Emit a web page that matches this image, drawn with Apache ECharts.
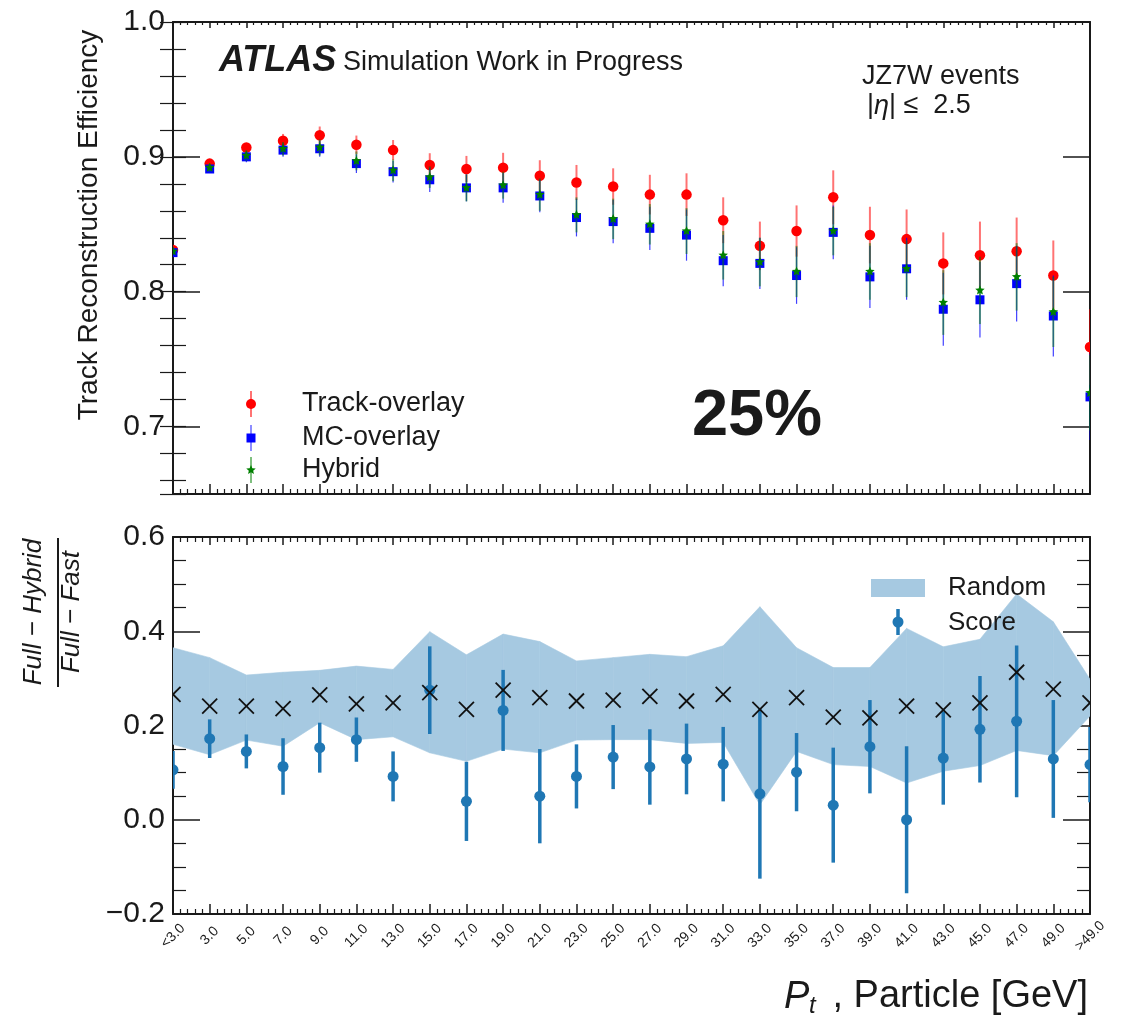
<!DOCTYPE html>
<html>
<head>
<meta charset="utf-8">
<script src="https://cdn.jsdelivr.net/npm/echarts@6/dist/echarts.min.js"></script>
<style>
  html, body { margin: 0; padding: 0; background: #fff; }
  #chart { width: 1121px; height: 1016px; }
</style>
</head>
<body>
<div id="chart"></div>
<script>
const FONT = '"Liberation Sans", Helvetica, Arial, sans-serif';
const FRAME = '#1a1a1a';
const TEXT = '#1a1a1a';

// pT bins (GeV)
const ptLabels = ['<3.0', '3.0', '5.0', '7.0', '9.0', '11.0', '13.0', '15.0', '17.0', '19.0', '21.0', '23.0', '25.0',
  '27.0', '29.0', '31.0', '33.0', '35.0', '37.0', '39.0', '41.0', '43.0', '45.0', '47.0', '49.0', '>49.0'];

// Track reconstruction efficiency per bin
const trackEff = [0.831, 0.895, 0.907, 0.912, 0.916, 0.909, 0.905, 0.894, 0.891, 0.892, 0.886, 0.881, 0.878,
  0.872, 0.872, 0.853, 0.834, 0.845, 0.870, 0.842, 0.839, 0.821, 0.827, 0.830, 0.812, 0.759];
const trackErr = [0.003, 0.003, 0.003, 0.005, 0.0065, 0.0068, 0.0075, 0.0087, 0.0097, 0.011, 0.0115, 0.013, 0.0135,
  0.0147, 0.0158, 0.017, 0.018, 0.019, 0.020, 0.021, 0.022, 0.023, 0.025, 0.025, 0.026, 0.028];

const mcEff = [0.829, 0.891, 0.900, 0.905, 0.906, 0.895, 0.889, 0.883, 0.877, 0.877, 0.871, 0.855, 0.852,
  0.847, 0.842, 0.823, 0.821, 0.812, 0.844, 0.811, 0.817, 0.787, 0.794, 0.806, 0.782, 0.722];
const mcErr = [0.003, 0.003, 0.004, 0.005, 0.006, 0.007, 0.008, 0.009, 0.010, 0.011, 0.012, 0.014, 0.016,
  0.016, 0.019, 0.019, 0.019, 0.021, 0.020, 0.023, 0.023, 0.027, 0.028, 0.028, 0.030, 0.032];

const hybridEff = [0.830, 0.892, 0.901, 0.906, 0.907, 0.897, 0.890, 0.885, 0.877, 0.879, 0.872, 0.857, 0.854,
  0.850, 0.845, 0.827, 0.822, 0.815, 0.845, 0.815, 0.817, 0.792, 0.801, 0.811, 0.785, 0.725];
const hybridErr = [0.003, 0.003, 0.004, 0.005, 0.006, 0.007, 0.008, 0.008, 0.010, 0.010, 0.012, 0.013, 0.015,
  0.015, 0.017, 0.018, 0.018, 0.019, 0.018, 0.021, 0.021, 0.024, 0.025, 0.025, 0.026, 0.028];

// (Full - Hybrid) / (Full - Fast): random selection band and mean, score selection
const randomUpper = [0.365, 0.344, 0.307, 0.313, 0.317, 0.326, 0.319, 0.399, 0.350, 0.394, 0.378, 0.337, 0.344,
  0.351, 0.346, 0.369, 0.452, 0.365, 0.323, 0.323, 0.406, 0.367, 0.383, 0.479, 0.420, 0.298];
const randomLower = [0.160, 0.138, 0.169, 0.156, 0.206, 0.170, 0.176, 0.142, 0.124, 0.150, 0.142, 0.169, 0.170,
  0.170, 0.162, 0.164, 0.032, 0.145, 0.117, 0.113, 0.078, 0.103, 0.115, 0.147, 0.136, 0.220];
const randomMean = [0.266, 0.241, 0.241, 0.236, 0.265, 0.246, 0.248, 0.270, 0.234, 0.275, 0.259, 0.252, 0.254,
  0.262, 0.252, 0.266, 0.234, 0.259, 0.218, 0.216, 0.241, 0.233, 0.248, 0.313, 0.277, 0.248];
const scoreVal = [0.106, 0.172, 0.145, 0.113, 0.153, 0.170, 0.092, 0.275, 0.039, 0.232, 0.050, 0.092, 0.133,
  0.112, 0.129, 0.118, 0.055, 0.101, 0.031, 0.155, 0.000, 0.131, 0.192, 0.209, 0.129, 0.117];
const scoreErr = [0.040, 0.041, 0.036, 0.060, 0.053, 0.047, 0.053, 0.093, 0.084, 0.086, 0.100, 0.068, 0.068,
  0.080, 0.075, 0.079, 0.180, 0.083, 0.122, 0.099, 0.156, 0.099, 0.113, 0.161, 0.125, 0.080];

const RED = '#ff0000', BLUE = '#0000ff', GREEN = '#008000';
const SCORE = '#1f77b4', BAND = '#a6c9e1';

function xAxis(gridIndex, position, majorLen, minorLen, labels) {
  return {
    type: 'value', gridIndex, position, min: 0, max: ptLabels.length - 1, interval: 1,
    axisLine: { show: true, onZero: false, lineStyle: { color: FRAME, width: 2 } },
    axisTick: { show: true, inside: true, length: majorLen, lineStyle: { color: FRAME, width: 1.5 } },
    minorTick: { show: true, splitNumber: 5, length: minorLen, lineStyle: { color: FRAME, width: 1.2 } },
    splitLine: { show: false }, minorSplitLine: { show: false },
    axisLabel: labels ? {
      show: true, rotate: 45, align: 'center', verticalAlign: 'middle', margin: 22,
      fontSize: 14, fontFamily: FONT, color: TEXT,
      formatter: v => ptLabels[Math.round(v)] || ''
    } : { show: false }
  };
}

function yAxisCfg(gridIndex, position, opts) {
  return Object.assign({
    type: 'value', gridIndex, position,
    axisLine: { show: true, onZero: false, lineStyle: { color: FRAME, width: 2 } },
    axisTick: { show: true, inside: true, length: 27, lineStyle: { color: FRAME, width: 1.5 } },
    splitLine: { show: false }, minorSplitLine: { show: false },
    axisLabel: { show: false }
  }, opts);
}

const effLabel = {
  show: true, margin: 8, fontSize: 30, fontFamily: FONT, color: TEXT,
  formatter: v => (Math.abs(v * 10 - Math.round(v * 10)) < 1e-6 ? v.toFixed(1) : '')
};
const ratioLabel = {
  show: true, margin: 8, fontSize: 30, fontFamily: FONT, color: TEXT,
  formatter: v => v.toFixed(1).replace('-', '\u2212')
};

// Top panel: major ticks every 0.1, minor ticks every 0.02 via a companion axis
const effMajor = { min: 0.65, max: 1.0, splitNumber: 4, minInterval: 0.1, maxInterval: 0.1 };
const effMinor = { min: 0.65, max: 1.0, splitNumber: 17, minInterval: 0.02, maxInterval: 0.02,
  axisLine: { show: false }, axisTick: { show: true, inside: true, length: 13, lineStyle: { color: FRAME, width: 1.2 } } };
const ratioRange = { min: -0.2, max: 0.6, interval: 0.2,
  minorTick: { show: true, splitNumber: 4, length: 13, lineStyle: { color: FRAME, width: 1.2 } } };

// marker shapes drawn at pixel position (x, y)
const shapes = {
  circle: (x, y, s, c) => ({ type: 'circle', shape: { cx: x, cy: y, r: s / 2 }, style: { fill: c } }),
  square: (x, y, s, c) => ({ type: 'rect', shape: { x: x - s / 2, y: y - s / 2, width: s, height: s }, style: { fill: c } }),
  star: (x, y, s, c) => ({ type: 'polygon', shape: { points: starPoints(x, y, s / 2, s / 4.4) }, style: { fill: c } }),
  cross: (x, y, s, c) => ({
    type: 'group', children: [
      { type: 'line', shape: { x1: x - s / 2, y1: y - s / 2, x2: x + s / 2, y2: y + s / 2 }, style: { stroke: c, lineWidth: 1.8 } },
      { type: 'line', shape: { x1: x - s / 2, y1: y + s / 2, x2: x + s / 2, y2: y - s / 2 }, style: { stroke: c, lineWidth: 1.8 } }
    ]
  })
};

function starPoints(cx, cy, R, r) {
  const pts = [];
  for (let k = 0; k < 10; k++) {
    const ang = -Math.PI / 2 + k * Math.PI / 5;
    const rad = k % 2 === 0 ? R : r;
    pts.push([cx + rad * Math.cos(ang), cy + rad * Math.sin(ang)]);
  }
  return pts;
}

// points with vertical error bars, clipped to the frame
function pointSeries(name, vals, errs, o) {
  return {
    type: 'custom', name, xAxisIndex: o.xi, yAxisIndex: o.yi, clip: true, silent: true, z: o.z || 3,
    data: vals.map((v, i) => [i, v, errs ? errs[i] : 0]),
    encode: { x: 0, y: 1 },
    renderItem: (params, api) => {
      const i = api.value(0), v = api.value(1), e = api.value(2);
      const c = api.coord([i, v]);
      const children = [];
      if (e > 0) {
        const a = api.coord([i, v + e]), b = api.coord([i, v - e]);
        children.push({ type: 'line', shape: { x1: a[0], y1: a[1], x2: b[0], y2: b[1] },
          style: { stroke: o.errColor, lineWidth: o.errWidth } });
      }
      children.push(shapes[o.shape](c[0], c[1], o.size, o.color));
      return { type: 'group', children };
    }
  };
}

// min/max band of the random selection, one quad per bin interval
const bandSeries = {
  type: 'custom', name: 'Random', xAxisIndex: 2, yAxisIndex: 4, clip: true, silent: true, z: 1,
  data: randomLower.slice(0, -1).map((v, i) => [i, v, randomUpper[i], randomLower[i + 1], randomUpper[i + 1]]),
  encode: { x: 0, y: [1, 2] },
  renderItem: (params, api) => {
    const i = api.value(0);
    const pts = [
      api.coord([i, api.value(1)]), api.coord([i + 1, api.value(3)]),
      api.coord([i + 1, api.value(4)]), api.coord([i, api.value(2)])
    ];
    return { type: 'polygon', shape: { points: pts }, style: { fill: BAND, stroke: BAND, lineWidth: 0.6 } };
  }
};

const series = [
  pointSeries('Track-overlay', trackEff, trackErr,
    { xi: 0, yi: 0, shape: 'circle', size: 10.5, color: RED, errColor: 'rgba(255,0,0,0.55)', errWidth: 2 }),
  pointSeries('MC-overlay', mcEff, mcErr,
    { xi: 0, yi: 0, shape: 'square', size: 9, color: BLUE, errColor: 'rgba(0,0,255,0.75)', errWidth: 1.2 }),
  pointSeries('Hybrid', hybridEff, hybridErr,
    { xi: 0, yi: 0, shape: 'star', size: 10, color: GREEN, errColor: 'rgba(0,128,0,0.5)', errWidth: 2 }),
  bandSeries,
  pointSeries('Random mean', randomMean, null,
    { xi: 2, yi: 4, shape: 'cross', size: 15, color: '#111', z: 4 }),
  pointSeries('Score', scoreVal, scoreErr,
    { xi: 2, yi: 4, shape: 'circle', size: 11, color: SCORE, errColor: SCORE, errWidth: 3.5, z: 3 })
];

function txt(text, x, y, size, opts) {
  return Object.assign({
    type: 'text', x, y, silent: true,
    style: Object.assign({
      text, fontSize: size, fontFamily: FONT, fill: TEXT,
      align: 'left', verticalAlign: 'middle', textAlign: 'left', textVerticalAlign: 'middle'
    }, opts && opts.style)
  }, opts && opts.el);
}

const graphics = [
  // axis titles
  txt('Track Reconstruction Efficiency', 89, 225, 28,
    { style: { align: 'center', textAlign: 'center' }, el: { rotation: Math.PI / 2 } }),
  txt('Full \u2212 Hybrid', 34, 612, 26,
    { style: { align: 'center', textAlign: 'center', fontStyle: 'italic' }, el: { rotation: Math.PI / 2 } }),
  { type: 'line', silent: true, shape: { x1: 58, y1: 538, x2: 58, y2: 687 }, style: { stroke: TEXT, lineWidth: 2 } },
  txt('Full \u2212 Fast', 72, 612, 26,
    { style: { align: 'center', textAlign: 'center', fontStyle: 'italic' }, el: { rotation: Math.PI / 2 } }),
  txt('P', 784, 997, 38, { style: { fontStyle: 'italic' } }),
  txt('t', 809, 1006, 24, { style: { fontStyle: 'italic' } }),
  txt(', Particle [GeV]', 1088, 997, 38, { style: { align: 'right', textAlign: 'right' } }),

  // labels inside the top panel
  txt('ATLAS', 219, 61, 36, { style: { fontWeight: 'bold', fontStyle: 'italic' } }),
  txt('Simulation Work in Progress', 343, 63, 27),
  txt('JZ7W events', 862, 77, 27),
  {
    type: 'text', x: 867, y: 106, silent: true,
    style: {
      text: '|{e|\u03b7}| \u2264  2.5', fontSize: 27, fontFamily: FONT, fill: TEXT,
      align: 'left', verticalAlign: 'middle', textAlign: 'left', textVerticalAlign: 'middle',
      rich: { e: { fontSize: 27, fontFamily: FONT, fontStyle: 'italic', fill: TEXT } }
    }
  },
  txt('25%', 757, 417, 65, { style: { fontWeight: 'bold', align: 'center', textAlign: 'center' } }),

  // top legend
  { type: 'line', silent: true, shape: { x1: 251, y1: 391, x2: 251, y2: 417 }, style: { stroke: 'rgba(255,0,0,0.55)', lineWidth: 2 } },
  { type: 'circle', silent: true, shape: { cx: 251, cy: 404, r: 5 }, style: { fill: RED } },
  { type: 'line', silent: true, shape: { x1: 251, y1: 425, x2: 251, y2: 451 }, style: { stroke: 'rgba(0,0,255,0.75)', lineWidth: 1.2 } },
  { type: 'rect', silent: true, shape: { x: 246.5, y: 433.5, width: 9, height: 9 }, style: { fill: BLUE } },
  { type: 'line', silent: true, shape: { x1: 251, y1: 457, x2: 251, y2: 483 }, style: { stroke: 'rgba(0,128,0,0.5)', lineWidth: 2 } },
  { type: 'polygon', silent: true, shape: { points: starPoints(251, 470, 5, 2.3) }, style: { fill: GREEN } },
  txt('Track-overlay', 302, 404, 27),
  txt('MC-overlay', 302, 438, 27),
  txt('Hybrid', 302, 470, 27),

  // bottom legend
  { type: 'rect', silent: true, shape: { x: 871, y: 579, width: 54, height: 18 }, style: { fill: BAND } },
  { type: 'line', silent: true, shape: { x1: 898, y1: 609, x2: 898, y2: 635 }, style: { stroke: SCORE, lineWidth: 3.5 } },
  { type: 'circle', silent: true, shape: { cx: 898, cy: 622, r: 5.5 }, style: { fill: SCORE } },
  txt('Random', 948, 588, 26),
  txt('Score', 948, 623, 26)
].map(el => Object.assign({ z: 100 }, el));

const chart = echarts.init(document.getElementById('chart'), null, { renderer: 'canvas' });
chart.setOption({
  animation: false,
  backgroundColor: '#ffffff',
  textStyle: { fontFamily: FONT },
  grid: [
    { left: 173, top: 22, width: 917, height: 472, containLabel: false, outerBoundsMode: 'none' },
    { left: 173, top: 537, width: 917, height: 377, containLabel: false, outerBoundsMode: 'none' }
  ],
  xAxis: [
    xAxis(0, 'bottom', 10, 5, false),
    xAxis(0, 'top', 6, 3, false),
    xAxis(1, 'bottom', 10, 5, true),
    xAxis(1, 'top', 8, 5, false)
  ],
  yAxis: [
    yAxisCfg(0, 'left', Object.assign({ axisLabel: effLabel }, effMajor)),
    yAxisCfg(0, 'left', effMinor),
    yAxisCfg(0, 'right', effMajor),
    yAxisCfg(0, 'right', effMinor),
    yAxisCfg(1, 'left', Object.assign({ axisLabel: ratioLabel }, ratioRange)),
    yAxisCfg(1, 'right', ratioRange)
  ],
  series,
  graphic: { elements: graphics }
});
</script>
</body>
</html>
